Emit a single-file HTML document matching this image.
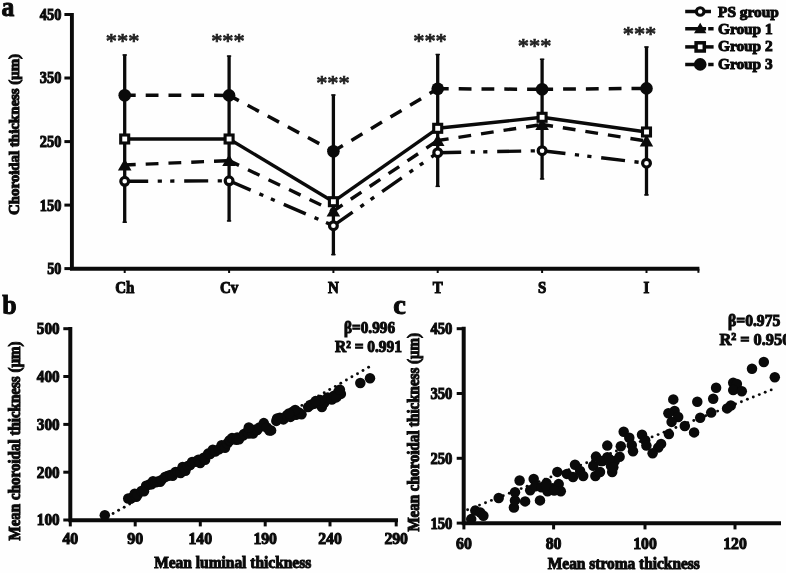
<!DOCTYPE html>
<html lang="en"><head><meta charset="utf-8"><title>Choroidal thickness figure</title>
<style>
html,body{margin:0;padding:0;background:#fefefe;}
body{width:786px;height:573px;overflow:hidden;}
svg{display:block;font-family:"Liberation Serif","DejaVu Serif",serif;font-weight:bold;fill:#0a0a0a;filter:blur(0.6px);}
text{stroke:#0a0a0a;stroke-width:1px;}
text.ast{font-weight:normal;fill:#222;stroke:#222;stroke-width:0.75px;}
</style></head><body>
<svg width="786" height="573" viewBox="0 0 786 573">
<rect width="786" height="573" fill="#fefefe"/>
<path d="M71.9 13.100000000000001V268.8H699.4" fill="none" stroke="#0a0a0a" stroke-width="3.9" stroke-linejoin="miter"/>
<line x1="64.4" y1="14.5" x2="71.9" y2="14.5" stroke="#0a0a0a" stroke-width="3"/>
<text x="61.4" y="19.9" font-size="16" text-anchor="end" textLength="21.6" lengthAdjust="spacingAndGlyphs">450</text>
<line x1="64.4" y1="78.0" x2="71.9" y2="78.0" stroke="#0a0a0a" stroke-width="3"/>
<text x="61.4" y="83.4" font-size="16" text-anchor="end" textLength="21.6" lengthAdjust="spacingAndGlyphs">350</text>
<line x1="64.4" y1="141.6" x2="71.9" y2="141.6" stroke="#0a0a0a" stroke-width="3"/>
<text x="61.4" y="147.0" font-size="16" text-anchor="end" textLength="21.6" lengthAdjust="spacingAndGlyphs">250</text>
<line x1="64.4" y1="205.1" x2="71.9" y2="205.1" stroke="#0a0a0a" stroke-width="3"/>
<text x="61.4" y="210.5" font-size="16" text-anchor="end" textLength="21.6" lengthAdjust="spacingAndGlyphs">150</text>
<line x1="64.4" y1="268.6" x2="71.9" y2="268.6" stroke="#0a0a0a" stroke-width="3"/>
<text x="61.4" y="274.0" font-size="16" text-anchor="end" textLength="14.2" lengthAdjust="spacingAndGlyphs">50</text>
<line x1="124.7" y1="268.8" x2="124.7" y2="273.0" stroke="#0a0a0a" stroke-width="2"/>
<text x="124.7" y="293" font-size="16" text-anchor="middle" textLength="19.1" lengthAdjust="spacingAndGlyphs">Ch</text>
<line x1="229.1" y1="268.8" x2="229.1" y2="273.0" stroke="#0a0a0a" stroke-width="2"/>
<text x="229.1" y="293" font-size="16" text-anchor="middle" textLength="18.3" lengthAdjust="spacingAndGlyphs">Cv</text>
<line x1="333.4" y1="268.8" x2="333.4" y2="273.0" stroke="#0a0a0a" stroke-width="2"/>
<text x="333.4" y="293" font-size="16" text-anchor="middle" textLength="10.8" lengthAdjust="spacingAndGlyphs">N</text>
<line x1="437.7" y1="268.8" x2="437.7" y2="273.0" stroke="#0a0a0a" stroke-width="2"/>
<text x="437.7" y="293" font-size="16" text-anchor="middle" textLength="10" lengthAdjust="spacingAndGlyphs">T</text>
<line x1="542.1" y1="268.8" x2="542.1" y2="273.0" stroke="#0a0a0a" stroke-width="2"/>
<text x="542.1" y="293" font-size="16" text-anchor="middle" textLength="8.3" lengthAdjust="spacingAndGlyphs">S</text>
<line x1="646.5" y1="268.8" x2="646.5" y2="273.0" stroke="#0a0a0a" stroke-width="2"/>
<text x="646.5" y="293" font-size="16" text-anchor="middle" textLength="5.8" lengthAdjust="spacingAndGlyphs">I</text>
<line x1="698.4" y1="268.8" x2="698.4" y2="272.8" stroke="#0a0a0a" stroke-width="2"/>
<text x="19.3" y="134.5" font-size="14.5" text-anchor="middle" textLength="161" lengthAdjust="spacingAndGlyphs" transform="rotate(-90 19.3 134.5)">Choroidal thickness (μm)</text>
<text x="1.5" y="15.6" font-size="27" textLength="12.8" lengthAdjust="spacingAndGlyphs">a</text>
<line x1="124.7" y1="54.4" x2="124.7" y2="222.8" stroke="#0a0a0a" stroke-width="3.3"/>
<line x1="122.5" y1="55.0" x2="126.9" y2="55.0" stroke="#0a0a0a" stroke-width="1.4"/>
<line x1="122.5" y1="222.20000000000002" x2="126.9" y2="222.20000000000002" stroke="#0a0a0a" stroke-width="1.4"/>
<line x1="229.1" y1="55.5" x2="229.1" y2="221.5" stroke="#0a0a0a" stroke-width="3.3"/>
<line x1="226.9" y1="56.1" x2="231.2" y2="56.1" stroke="#0a0a0a" stroke-width="1.4"/>
<line x1="226.9" y1="220.9" x2="231.2" y2="220.9" stroke="#0a0a0a" stroke-width="1.4"/>
<line x1="333.4" y1="94.4" x2="333.4" y2="255.2" stroke="#0a0a0a" stroke-width="3.3"/>
<line x1="331.2" y1="95.0" x2="335.6" y2="95.0" stroke="#0a0a0a" stroke-width="1.4"/>
<line x1="331.2" y1="254.6" x2="335.6" y2="254.6" stroke="#0a0a0a" stroke-width="1.4"/>
<line x1="437.7" y1="53.9" x2="437.7" y2="187" stroke="#0a0a0a" stroke-width="3.3"/>
<line x1="435.5" y1="54.5" x2="439.9" y2="54.5" stroke="#0a0a0a" stroke-width="1.4"/>
<line x1="435.5" y1="186.4" x2="439.9" y2="186.4" stroke="#0a0a0a" stroke-width="1.4"/>
<line x1="542.1" y1="58.7" x2="542.1" y2="179.5" stroke="#0a0a0a" stroke-width="3.3"/>
<line x1="539.9" y1="59.300000000000004" x2="544.3" y2="59.300000000000004" stroke="#0a0a0a" stroke-width="1.4"/>
<line x1="539.9" y1="178.9" x2="544.3" y2="178.9" stroke="#0a0a0a" stroke-width="1.4"/>
<line x1="646.5" y1="46.4" x2="646.5" y2="195.5" stroke="#0a0a0a" stroke-width="3.3"/>
<line x1="644.2" y1="47.0" x2="648.7" y2="47.0" stroke="#0a0a0a" stroke-width="1.4"/>
<line x1="644.2" y1="194.9" x2="648.7" y2="194.9" stroke="#0a0a0a" stroke-width="1.4"/>
<line x1="124.7" y1="95.2" x2="229.1" y2="95.4" stroke="#0a0a0a" stroke-width="3.5" stroke-dasharray="12.8 10" stroke-dashoffset="1.8"/>
<line x1="229.1" y1="95.4" x2="333.4" y2="151.2" stroke="#0a0a0a" stroke-width="3.5" stroke-dasharray="12.8 10" stroke-dashoffset="1.8"/>
<line x1="333.4" y1="151.2" x2="437.7" y2="88.7" stroke="#0a0a0a" stroke-width="3.5" stroke-dasharray="12.8 10" stroke-dashoffset="1.8"/>
<line x1="437.7" y1="88.7" x2="542.1" y2="89.3" stroke="#0a0a0a" stroke-width="3.5" stroke-dasharray="12.8 10" stroke-dashoffset="1.8"/>
<line x1="542.1" y1="89.3" x2="646.5" y2="88.4" stroke="#0a0a0a" stroke-width="3.5" stroke-dasharray="12.8 10" stroke-dashoffset="1.8"/>
<line x1="124.7" y1="165" x2="229.1" y2="160.6" stroke="#0a0a0a" stroke-width="3.4" stroke-dasharray="12.8 10" stroke-dashoffset="1.8"/>
<line x1="229.1" y1="160.6" x2="333.4" y2="211" stroke="#0a0a0a" stroke-width="3.4" stroke-dasharray="12.8 10" stroke-dashoffset="1.8"/>
<line x1="333.4" y1="211" x2="437.7" y2="140.5" stroke="#0a0a0a" stroke-width="3.4" stroke-dasharray="12.8 10" stroke-dashoffset="1.8"/>
<line x1="437.7" y1="140.5" x2="542.1" y2="124.5" stroke="#0a0a0a" stroke-width="3.4" stroke-dasharray="12.8 10" stroke-dashoffset="1.8"/>
<line x1="542.1" y1="124.5" x2="646.5" y2="141" stroke="#0a0a0a" stroke-width="3.4" stroke-dasharray="12.8 10" stroke-dashoffset="1.8"/>
<line x1="124.7" y1="181.3" x2="229.1" y2="180.8" stroke="#0a0a0a" stroke-width="3.4" stroke-dasharray="24 9.5 4.2 8.3 4.2 9.8" stroke-dashoffset="0.5"/>
<line x1="229.1" y1="180.8" x2="333.4" y2="225.7" stroke="#0a0a0a" stroke-width="3.4" stroke-dasharray="24 9.5 4.2 8.3 4.2 9.8" stroke-dashoffset="0.5"/>
<line x1="333.4" y1="225.7" x2="437.7" y2="152.7" stroke="#0a0a0a" stroke-width="3.4" stroke-dasharray="24 9.5 4.2 8.3 4.2 9.8" stroke-dashoffset="0.5"/>
<line x1="437.7" y1="152.7" x2="542.1" y2="150.7" stroke="#0a0a0a" stroke-width="3.4" stroke-dasharray="24 9.5 4.2 8.3 4.2 9.8" stroke-dashoffset="0.5"/>
<line x1="542.1" y1="150.7" x2="646.5" y2="163.2" stroke="#0a0a0a" stroke-width="3.4" stroke-dasharray="24 9.5 4.2 8.3 4.2 9.8" stroke-dashoffset="0.5"/>
<line x1="124.7" y1="139" x2="229.1" y2="139" stroke="#0a0a0a" stroke-width="3.4"/>
<line x1="229.1" y1="139" x2="333.4" y2="201.7" stroke="#0a0a0a" stroke-width="3.4"/>
<line x1="333.4" y1="201.7" x2="437.7" y2="128.3" stroke="#0a0a0a" stroke-width="3.4"/>
<line x1="437.7" y1="128.3" x2="542.1" y2="117.3" stroke="#0a0a0a" stroke-width="3.4"/>
<line x1="542.1" y1="117.3" x2="646.5" y2="132" stroke="#0a0a0a" stroke-width="3.4"/>
<circle cx="124.7" cy="95.2" r="6.3" fill="#0a0a0a"/>
<circle cx="229.1" cy="95.4" r="6.3" fill="#0a0a0a"/>
<circle cx="333.4" cy="151.2" r="6.3" fill="#0a0a0a"/>
<circle cx="437.7" cy="88.7" r="6.3" fill="#0a0a0a"/>
<circle cx="542.1" cy="89.3" r="6.3" fill="#0a0a0a"/>
<circle cx="646.5" cy="88.4" r="6.3" fill="#0a0a0a"/>
<path d="M124.7 158.8L131.5 170.4H117.9Z" fill="#0a0a0a"/>
<path d="M229.1 154.4L235.9 166.0H222.2Z" fill="#0a0a0a"/>
<path d="M333.4 204.8L340.2 216.4H326.6Z" fill="#0a0a0a"/>
<path d="M437.7 134.3L444.5 145.9H430.9Z" fill="#0a0a0a"/>
<path d="M542.1 118.3L548.9 129.9H535.3Z" fill="#0a0a0a"/>
<path d="M646.5 134.8L653.2 146.4H639.7Z" fill="#0a0a0a"/>
<rect x="120.7" y="135.0" width="8" height="8" fill="#fff" stroke="#0a0a0a" stroke-width="3.1"/>
<rect x="225.1" y="135.0" width="8" height="8" fill="#fff" stroke="#0a0a0a" stroke-width="3.1"/>
<rect x="329.4" y="197.7" width="8" height="8" fill="#fff" stroke="#0a0a0a" stroke-width="3.1"/>
<rect x="433.7" y="124.3" width="8" height="8" fill="#fff" stroke="#0a0a0a" stroke-width="3.1"/>
<rect x="538.1" y="113.3" width="8" height="8" fill="#fff" stroke="#0a0a0a" stroke-width="3.1"/>
<rect x="642.5" y="128.0" width="8" height="8" fill="#fff" stroke="#0a0a0a" stroke-width="3.1"/>
<circle cx="124.7" cy="181.3" r="3.9" fill="#fff" stroke="#0a0a0a" stroke-width="3.2"/>
<circle cx="229.1" cy="180.8" r="3.9" fill="#fff" stroke="#0a0a0a" stroke-width="3.2"/>
<circle cx="333.4" cy="225.7" r="3.9" fill="#fff" stroke="#0a0a0a" stroke-width="3.2"/>
<circle cx="437.7" cy="152.7" r="3.9" fill="#fff" stroke="#0a0a0a" stroke-width="3.2"/>
<circle cx="542.1" cy="150.7" r="3.9" fill="#fff" stroke="#0a0a0a" stroke-width="3.2"/>
<circle cx="646.5" cy="163.2" r="3.9" fill="#fff" stroke="#0a0a0a" stroke-width="3.2"/>
<text x="122.6" y="48.2" font-size="20" text-anchor="middle" textLength="33.5" lengthAdjust="spacingAndGlyphs" class="ast">***</text>
<text x="227.9" y="48.2" font-size="20" text-anchor="middle" textLength="33.5" lengthAdjust="spacingAndGlyphs" class="ast">***</text>
<text x="332.9" y="90.3" font-size="20" text-anchor="middle" textLength="33.5" lengthAdjust="spacingAndGlyphs" class="ast">***</text>
<text x="430" y="48.2" font-size="20" text-anchor="middle" textLength="33.5" lengthAdjust="spacingAndGlyphs" class="ast">***</text>
<text x="534.6" y="53.3" font-size="20" text-anchor="middle" textLength="33.5" lengthAdjust="spacingAndGlyphs" class="ast">***</text>
<text x="639.5" y="40.9" font-size="20" text-anchor="middle" textLength="33.5" lengthAdjust="spacingAndGlyphs" class="ast">***</text>
<line x1="685.2" y1="11.5" x2="711" y2="11.5" stroke="#0a0a0a" stroke-width="3.5"/>
<circle cx="700.2" cy="11.5" r="3.8" fill="#fff" stroke="#0a0a0a" stroke-width="3.1"/>
<line x1="685.2" y1="28.8" x2="713.6" y2="28.8" stroke="#0a0a0a" stroke-width="3.5" stroke-dasharray="20.9 2.1 5.6 9"/>
<path d="M700.2 22.8L706.4000000000001 33.2H694.0Z" fill="#0a0a0a"/>
<line x1="685.2" y1="46.9" x2="713.6" y2="46.9" stroke="#0a0a0a" stroke-width="3.5"/>
<rect x="696.1" y="42.8" width="8.2" height="8.2" fill="#fff" stroke="#0a0a0a" stroke-width="3.5"/>
<line x1="685.2" y1="64.4" x2="713.6" y2="64.4" stroke="#0a0a0a" stroke-width="3.5" stroke-dasharray="20.9 2.1 5.6 9"/>
<circle cx="700.2" cy="64.4" r="6.3" fill="#0a0a0a"/>
<text x="718" y="16.5" font-size="15" textLength="60.9" lengthAdjust="spacingAndGlyphs">PS group</text>
<text x="718" y="33.9" font-size="15" textLength="54.6" lengthAdjust="spacingAndGlyphs">Group 1</text>
<text x="718" y="51.2" font-size="15" textLength="54.6" lengthAdjust="spacingAndGlyphs">Group 2</text>
<text x="718" y="68.6" font-size="15" textLength="54.6" lengthAdjust="spacingAndGlyphs">Group 3</text>
<path d="M70.3 326.9V520.2H398" fill="none" stroke="#0a0a0a" stroke-width="4"/>
<line x1="63.3" y1="328.7" x2="70.3" y2="328.7" stroke="#0a0a0a" stroke-width="3"/>
<text x="59.6" y="334.1" font-size="16" text-anchor="end" textLength="22.8" lengthAdjust="spacingAndGlyphs">500</text>
<line x1="63.3" y1="376.5" x2="70.3" y2="376.5" stroke="#0a0a0a" stroke-width="3"/>
<text x="59.6" y="381.9" font-size="16" text-anchor="end" textLength="22.8" lengthAdjust="spacingAndGlyphs">400</text>
<line x1="63.3" y1="424.4" x2="70.3" y2="424.4" stroke="#0a0a0a" stroke-width="3"/>
<text x="59.6" y="429.8" font-size="16" text-anchor="end" textLength="22.8" lengthAdjust="spacingAndGlyphs">300</text>
<line x1="63.3" y1="472.2" x2="70.3" y2="472.2" stroke="#0a0a0a" stroke-width="3"/>
<text x="59.6" y="477.6" font-size="16" text-anchor="end" textLength="22.8" lengthAdjust="spacingAndGlyphs">200</text>
<line x1="63.3" y1="520.0" x2="70.3" y2="520.0" stroke="#0a0a0a" stroke-width="3"/>
<text x="59.6" y="525.4" font-size="16" text-anchor="end" textLength="22.8" lengthAdjust="spacingAndGlyphs">100</text>
<line x1="70.3" y1="520.2" x2="70.3" y2="526.4000000000001" stroke="#0a0a0a" stroke-width="3"/>
<text x="70.3" y="544.3" font-size="16" text-anchor="middle" textLength="15.8" lengthAdjust="spacingAndGlyphs">40</text>
<line x1="135.2" y1="520.2" x2="135.2" y2="526.4000000000001" stroke="#0a0a0a" stroke-width="3"/>
<text x="135.2" y="544.3" font-size="16" text-anchor="middle" textLength="15.8" lengthAdjust="spacingAndGlyphs">90</text>
<line x1="200.3" y1="520.2" x2="200.3" y2="526.4000000000001" stroke="#0a0a0a" stroke-width="3"/>
<text x="200.3" y="544.3" font-size="16" text-anchor="middle" textLength="23.6" lengthAdjust="spacingAndGlyphs">140</text>
<line x1="265.2" y1="520.2" x2="265.2" y2="526.4000000000001" stroke="#0a0a0a" stroke-width="3"/>
<text x="265.2" y="544.3" font-size="16" text-anchor="middle" textLength="23.6" lengthAdjust="spacingAndGlyphs">190</text>
<line x1="330.0" y1="520.2" x2="330.0" y2="526.4000000000001" stroke="#0a0a0a" stroke-width="3"/>
<text x="330.0" y="544.3" font-size="16" text-anchor="middle" textLength="23.6" lengthAdjust="spacingAndGlyphs">240</text>
<line x1="396.2" y1="520.2" x2="396.2" y2="526.4000000000001" stroke="#0a0a0a" stroke-width="3"/>
<text x="396.2" y="544.3" font-size="16" text-anchor="middle" textLength="23.6" lengthAdjust="spacingAndGlyphs">290</text>
<text x="154.2" y="568.3" font-size="16" textLength="157" lengthAdjust="spacingAndGlyphs">Mean luminal thickness</text>
<text x="20.2" y="441" font-size="16" text-anchor="middle" textLength="199" lengthAdjust="spacingAndGlyphs" transform="rotate(-90 20.2 441)">Mean choroidal thickness (μm)</text>
<text x="2.2" y="314.4" font-size="28" textLength="14.4" lengthAdjust="spacingAndGlyphs">b</text>
<text x="344" y="333" font-size="16" textLength="51" lengthAdjust="spacingAndGlyphs">β=0.996</text>
<text x="335" y="352" font-size="16" textLength="67" lengthAdjust="spacingAndGlyphs">R² = 0.991</text>
<circle cx="129.7" cy="504.0" r="1.45" fill="#0a0a0a"/>
<circle cx="124.2" cy="507.2" r="1.45" fill="#0a0a0a"/>
<circle cx="118.6" cy="510.3" r="1.45" fill="#0a0a0a"/>
<circle cx="113.1" cy="513.5" r="1.45" fill="#0a0a0a"/>
<circle cx="107.5" cy="516.7" r="1.45" fill="#0a0a0a"/>
<circle cx="368.6" cy="367.3" r="1.45" fill="#0a0a0a"/>
<circle cx="363.0" cy="370.5" r="1.45" fill="#0a0a0a"/>
<circle cx="357.5" cy="373.7" r="1.45" fill="#0a0a0a"/>
<circle cx="351.9" cy="376.8" r="1.45" fill="#0a0a0a"/>
<circle cx="346.4" cy="380.0" r="1.45" fill="#0a0a0a"/>
<circle cx="340.8" cy="383.2" r="1.45" fill="#0a0a0a"/>
<circle cx="335.3" cy="386.4" r="1.45" fill="#0a0a0a"/>
<circle cx="329.7" cy="389.5" r="1.45" fill="#0a0a0a"/>
<circle cx="324.2" cy="392.7" r="1.45" fill="#0a0a0a"/>
<circle cx="318.6" cy="395.9" r="1.45" fill="#0a0a0a"/>
<circle cx="313.1" cy="399.1" r="1.45" fill="#0a0a0a"/>
<circle cx="307.5" cy="402.3" r="1.45" fill="#0a0a0a"/>
<circle cx="301.9" cy="405.4" r="1.45" fill="#0a0a0a"/>
<circle cx="296.4" cy="408.6" r="1.45" fill="#0a0a0a"/>
<circle cx="290.8" cy="411.8" r="1.45" fill="#0a0a0a"/>
<circle cx="104.8" cy="515.3" r="5.25" fill="#0a0a0a"/>
<circle cx="360.3" cy="383.0" r="5.25" fill="#0a0a0a"/>
<circle cx="370.0" cy="378.2" r="5.25" fill="#0a0a0a"/>
<circle cx="269.5" cy="430.5" r="5.25" fill="#0a0a0a"/>
<circle cx="128.2" cy="498.5" r="5.25" fill="#0a0a0a"/>
<circle cx="130.5" cy="498.8" r="5.25" fill="#0a0a0a"/>
<circle cx="132.6" cy="497.2" r="5.25" fill="#0a0a0a"/>
<circle cx="134.7" cy="493.7" r="5.25" fill="#0a0a0a"/>
<circle cx="136.3" cy="496.8" r="5.25" fill="#0a0a0a"/>
<circle cx="137.6" cy="494.6" r="5.25" fill="#0a0a0a"/>
<circle cx="141.5" cy="491.0" r="5.25" fill="#0a0a0a"/>
<circle cx="144.0" cy="491.2" r="5.25" fill="#0a0a0a"/>
<circle cx="146.1" cy="485.7" r="5.25" fill="#0a0a0a"/>
<circle cx="149.2" cy="484.6" r="5.25" fill="#0a0a0a"/>
<circle cx="151.5" cy="484.2" r="5.25" fill="#0a0a0a"/>
<circle cx="153.0" cy="481.2" r="5.25" fill="#0a0a0a"/>
<circle cx="155.8" cy="482.3" r="5.25" fill="#0a0a0a"/>
<circle cx="157.7" cy="481.4" r="5.25" fill="#0a0a0a"/>
<circle cx="160.1" cy="481.8" r="5.25" fill="#0a0a0a"/>
<circle cx="161.6" cy="479.9" r="5.25" fill="#0a0a0a"/>
<circle cx="165.0" cy="477.0" r="5.25" fill="#0a0a0a"/>
<circle cx="167.4" cy="476.1" r="5.25" fill="#0a0a0a"/>
<circle cx="170.3" cy="475.0" r="5.25" fill="#0a0a0a"/>
<circle cx="172.6" cy="475.8" r="5.25" fill="#0a0a0a"/>
<circle cx="175.5" cy="472.0" r="5.25" fill="#0a0a0a"/>
<circle cx="177.9" cy="472.1" r="5.25" fill="#0a0a0a"/>
<circle cx="180.6" cy="473.0" r="5.25" fill="#0a0a0a"/>
<circle cx="182.6" cy="466.9" r="5.25" fill="#0a0a0a"/>
<circle cx="185.4" cy="470.8" r="5.25" fill="#0a0a0a"/>
<circle cx="187.9" cy="466.0" r="5.25" fill="#0a0a0a"/>
<circle cx="190.2" cy="465.1" r="5.25" fill="#0a0a0a"/>
<circle cx="192.1" cy="462.0" r="5.25" fill="#0a0a0a"/>
<circle cx="195.0" cy="461.7" r="5.25" fill="#0a0a0a"/>
<circle cx="198.4" cy="459.7" r="5.25" fill="#0a0a0a"/>
<circle cx="200.2" cy="463.1" r="5.25" fill="#0a0a0a"/>
<circle cx="203.7" cy="457.7" r="5.25" fill="#0a0a0a"/>
<circle cx="205.1" cy="459.7" r="5.25" fill="#0a0a0a"/>
<circle cx="208.1" cy="453.6" r="5.25" fill="#0a0a0a"/>
<circle cx="210.1" cy="454.1" r="5.25" fill="#0a0a0a"/>
<circle cx="212.8" cy="449.8" r="5.25" fill="#0a0a0a"/>
<circle cx="215.2" cy="451.6" r="5.25" fill="#0a0a0a"/>
<circle cx="219.0" cy="449.3" r="5.25" fill="#0a0a0a"/>
<circle cx="221.6" cy="445.2" r="5.25" fill="#0a0a0a"/>
<circle cx="225.0" cy="447.8" r="5.25" fill="#0a0a0a"/>
<circle cx="227.3" cy="443.4" r="5.25" fill="#0a0a0a"/>
<circle cx="229.3" cy="440.6" r="5.25" fill="#0a0a0a"/>
<circle cx="230.2" cy="440.2" r="5.25" fill="#0a0a0a"/>
<circle cx="232.0" cy="438.1" r="5.25" fill="#0a0a0a"/>
<circle cx="233.8" cy="439.1" r="5.25" fill="#0a0a0a"/>
<circle cx="236.5" cy="439.7" r="5.25" fill="#0a0a0a"/>
<circle cx="237.2" cy="437.4" r="5.25" fill="#0a0a0a"/>
<circle cx="239.1" cy="439.2" r="5.25" fill="#0a0a0a"/>
<circle cx="243.0" cy="435.6" r="5.25" fill="#0a0a0a"/>
<circle cx="244.0" cy="434.0" r="5.25" fill="#0a0a0a"/>
<circle cx="247.1" cy="432.1" r="5.25" fill="#0a0a0a"/>
<circle cx="248.8" cy="433.5" r="5.25" fill="#0a0a0a"/>
<circle cx="249.8" cy="429.9" r="5.25" fill="#0a0a0a"/>
<circle cx="253.0" cy="433.6" r="5.25" fill="#0a0a0a"/>
<circle cx="254.6" cy="429.8" r="5.25" fill="#0a0a0a"/>
<circle cx="257.2" cy="430.1" r="5.25" fill="#0a0a0a"/>
<circle cx="259.4" cy="427.4" r="5.25" fill="#0a0a0a"/>
<circle cx="248.8" cy="427.5" r="5.25" fill="#0a0a0a"/>
<circle cx="263.8" cy="423.1" r="5.25" fill="#0a0a0a"/>
<circle cx="271.1" cy="430.4" r="5.25" fill="#0a0a0a"/>
<circle cx="266.9" cy="427.5" r="5.25" fill="#0a0a0a"/>
<circle cx="276.3" cy="420.9" r="5.25" fill="#0a0a0a"/>
<circle cx="279.9" cy="417.8" r="5.25" fill="#0a0a0a"/>
<circle cx="283.4" cy="419.4" r="5.25" fill="#0a0a0a"/>
<circle cx="286.9" cy="415.3" r="5.25" fill="#0a0a0a"/>
<circle cx="290.5" cy="416.9" r="5.25" fill="#0a0a0a"/>
<circle cx="292.8" cy="411.8" r="5.25" fill="#0a0a0a"/>
<circle cx="296.0" cy="414.7" r="5.25" fill="#0a0a0a"/>
<circle cx="299.1" cy="412.6" r="5.25" fill="#0a0a0a"/>
<circle cx="301.5" cy="414.2" r="5.25" fill="#0a0a0a"/>
<circle cx="295.2" cy="409.9" r="5.25" fill="#0a0a0a"/>
<circle cx="288.9" cy="413.4" r="5.25" fill="#0a0a0a"/>
<circle cx="277.1" cy="418.4" r="5.25" fill="#0a0a0a"/>
<circle cx="308.1" cy="407.1" r="5.25" fill="#0a0a0a"/>
<circle cx="310.9" cy="404.8" r="5.25" fill="#0a0a0a"/>
<circle cx="314.0" cy="403.7" r="5.25" fill="#0a0a0a"/>
<circle cx="318.0" cy="402.1" r="5.25" fill="#0a0a0a"/>
<circle cx="321.9" cy="407.1" r="5.25" fill="#0a0a0a"/>
<circle cx="324.2" cy="402.7" r="5.25" fill="#0a0a0a"/>
<circle cx="320.3" cy="400.1" r="5.25" fill="#0a0a0a"/>
<circle cx="315.6" cy="401.1" r="5.25" fill="#0a0a0a"/>
<circle cx="327.7" cy="397.4" r="5.25" fill="#0a0a0a"/>
<circle cx="331.8" cy="399.6" r="5.25" fill="#0a0a0a"/>
<circle cx="334.0" cy="395.8" r="5.25" fill="#0a0a0a"/>
<circle cx="338.4" cy="391.7" r="5.25" fill="#0a0a0a"/>
<circle cx="340.9" cy="393.9" r="5.25" fill="#0a0a0a"/>
<circle cx="336.2" cy="397.4" r="5.25" fill="#0a0a0a"/>
<circle cx="339.9" cy="389.8" r="5.25" fill="#0a0a0a"/>
<path d="M463.7 326.8V523.2H781" fill="none" stroke="#0a0a0a" stroke-width="4"/>
<line x1="456.7" y1="328.7" x2="463.7" y2="328.7" stroke="#0a0a0a" stroke-width="3"/>
<text x="452.4" y="334.1" font-size="16" text-anchor="end" textLength="22" lengthAdjust="spacingAndGlyphs">450</text>
<line x1="456.7" y1="393.5" x2="463.7" y2="393.5" stroke="#0a0a0a" stroke-width="3"/>
<text x="452.4" y="398.9" font-size="16" text-anchor="end" textLength="22" lengthAdjust="spacingAndGlyphs">350</text>
<line x1="456.7" y1="458.3" x2="463.7" y2="458.3" stroke="#0a0a0a" stroke-width="3"/>
<text x="452.4" y="463.7" font-size="16" text-anchor="end" textLength="22" lengthAdjust="spacingAndGlyphs">250</text>
<line x1="456.7" y1="523.1" x2="463.7" y2="523.1" stroke="#0a0a0a" stroke-width="3"/>
<text x="452.4" y="528.5" font-size="16" text-anchor="end" textLength="22" lengthAdjust="spacingAndGlyphs">150</text>
<line x1="463.9" y1="523.2" x2="463.9" y2="529.4000000000001" stroke="#0a0a0a" stroke-width="3"/>
<text x="463.9" y="548.6" font-size="16" text-anchor="middle" textLength="15.8" lengthAdjust="spacingAndGlyphs">60</text>
<line x1="553.6" y1="523.2" x2="553.6" y2="529.4000000000001" stroke="#0a0a0a" stroke-width="3"/>
<text x="553.6" y="548.6" font-size="16" text-anchor="middle" textLength="15.8" lengthAdjust="spacingAndGlyphs">80</text>
<line x1="645.0" y1="523.2" x2="645.0" y2="529.4000000000001" stroke="#0a0a0a" stroke-width="3"/>
<text x="645" y="548.6" font-size="16" text-anchor="middle" textLength="23.6" lengthAdjust="spacingAndGlyphs">100</text>
<line x1="735.0" y1="523.2" x2="735.0" y2="529.4000000000001" stroke="#0a0a0a" stroke-width="3"/>
<text x="735" y="548.6" font-size="16" text-anchor="middle" textLength="23.6" lengthAdjust="spacingAndGlyphs">120</text>
<text x="547.8" y="569.4" font-size="16" textLength="152" lengthAdjust="spacingAndGlyphs">Mean stroma thickness</text>
<text x="419.2" y="432.3" font-size="16" text-anchor="middle" textLength="198.5" lengthAdjust="spacingAndGlyphs" transform="rotate(-90 419.2 432.3)">Mean choroidal thickness (μm)</text>
<text x="393.2" y="314.3" font-size="28" textLength="12.6" lengthAdjust="spacingAndGlyphs">c</text>
<text x="728" y="326" font-size="16" textLength="52.3" lengthAdjust="spacingAndGlyphs">β=0.975</text>
<text x="719.4" y="345.2" font-size="17" textLength="71" lengthAdjust="spacingAndGlyphs">R² = 0.950</text>
<circle cx="467.6" cy="509.8" r="1.45" fill="#0a0a0a"/>
<circle cx="473.6" cy="507.4" r="1.45" fill="#0a0a0a"/>
<circle cx="479.5" cy="505.1" r="1.45" fill="#0a0a0a"/>
<circle cx="485.5" cy="502.7" r="1.45" fill="#0a0a0a"/>
<circle cx="491.4" cy="500.4" r="1.45" fill="#0a0a0a"/>
<circle cx="497.4" cy="498.0" r="1.45" fill="#0a0a0a"/>
<circle cx="503.3" cy="495.7" r="1.45" fill="#0a0a0a"/>
<circle cx="509.3" cy="493.3" r="1.45" fill="#0a0a0a"/>
<circle cx="515.2" cy="491.0" r="1.45" fill="#0a0a0a"/>
<circle cx="521.2" cy="488.6" r="1.45" fill="#0a0a0a"/>
<circle cx="527.1" cy="486.3" r="1.45" fill="#0a0a0a"/>
<circle cx="533.1" cy="483.9" r="1.45" fill="#0a0a0a"/>
<circle cx="539.0" cy="481.6" r="1.45" fill="#0a0a0a"/>
<circle cx="545.0" cy="479.2" r="1.45" fill="#0a0a0a"/>
<circle cx="550.9" cy="476.9" r="1.45" fill="#0a0a0a"/>
<circle cx="556.9" cy="474.5" r="1.45" fill="#0a0a0a"/>
<circle cx="562.8" cy="472.2" r="1.45" fill="#0a0a0a"/>
<circle cx="568.8" cy="469.8" r="1.45" fill="#0a0a0a"/>
<circle cx="574.7" cy="467.5" r="1.45" fill="#0a0a0a"/>
<circle cx="580.7" cy="465.1" r="1.45" fill="#0a0a0a"/>
<circle cx="586.7" cy="462.8" r="1.45" fill="#0a0a0a"/>
<circle cx="592.6" cy="460.4" r="1.45" fill="#0a0a0a"/>
<circle cx="598.6" cy="458.1" r="1.45" fill="#0a0a0a"/>
<circle cx="604.5" cy="455.7" r="1.45" fill="#0a0a0a"/>
<circle cx="610.5" cy="453.4" r="1.45" fill="#0a0a0a"/>
<circle cx="616.4" cy="451.0" r="1.45" fill="#0a0a0a"/>
<circle cx="622.4" cy="448.7" r="1.45" fill="#0a0a0a"/>
<circle cx="628.3" cy="446.3" r="1.45" fill="#0a0a0a"/>
<circle cx="634.3" cy="444.0" r="1.45" fill="#0a0a0a"/>
<circle cx="640.2" cy="441.6" r="1.45" fill="#0a0a0a"/>
<circle cx="646.2" cy="439.3" r="1.45" fill="#0a0a0a"/>
<circle cx="652.1" cy="436.9" r="1.45" fill="#0a0a0a"/>
<circle cx="658.1" cy="434.6" r="1.45" fill="#0a0a0a"/>
<circle cx="664.0" cy="432.2" r="1.45" fill="#0a0a0a"/>
<circle cx="670.0" cy="429.9" r="1.45" fill="#0a0a0a"/>
<circle cx="675.9" cy="427.5" r="1.45" fill="#0a0a0a"/>
<circle cx="681.9" cy="425.2" r="1.45" fill="#0a0a0a"/>
<circle cx="687.8" cy="422.8" r="1.45" fill="#0a0a0a"/>
<circle cx="693.8" cy="420.5" r="1.45" fill="#0a0a0a"/>
<circle cx="699.8" cy="418.1" r="1.45" fill="#0a0a0a"/>
<circle cx="705.7" cy="415.8" r="1.45" fill="#0a0a0a"/>
<circle cx="711.7" cy="413.4" r="1.45" fill="#0a0a0a"/>
<circle cx="717.6" cy="411.1" r="1.45" fill="#0a0a0a"/>
<circle cx="723.6" cy="408.7" r="1.45" fill="#0a0a0a"/>
<circle cx="729.5" cy="406.4" r="1.45" fill="#0a0a0a"/>
<circle cx="735.5" cy="404.0" r="1.45" fill="#0a0a0a"/>
<circle cx="741.4" cy="401.7" r="1.45" fill="#0a0a0a"/>
<circle cx="747.4" cy="399.3" r="1.45" fill="#0a0a0a"/>
<circle cx="753.3" cy="397.0" r="1.45" fill="#0a0a0a"/>
<circle cx="759.3" cy="394.6" r="1.45" fill="#0a0a0a"/>
<circle cx="765.2" cy="392.3" r="1.45" fill="#0a0a0a"/>
<circle cx="771.2" cy="389.9" r="1.45" fill="#0a0a0a"/>
<circle cx="471.2" cy="519.1" r="5.25" fill="#0a0a0a"/>
<circle cx="475.3" cy="510.6" r="5.25" fill="#0a0a0a"/>
<circle cx="480.4" cy="512.6" r="5.25" fill="#0a0a0a"/>
<circle cx="483.4" cy="515.7" r="5.25" fill="#0a0a0a"/>
<circle cx="498.7" cy="498.0" r="5.25" fill="#0a0a0a"/>
<circle cx="513.9" cy="507.5" r="5.25" fill="#0a0a0a"/>
<circle cx="515.0" cy="500.4" r="5.25" fill="#0a0a0a"/>
<circle cx="515.0" cy="492.3" r="5.25" fill="#0a0a0a"/>
<circle cx="519.6" cy="480.5" r="5.25" fill="#0a0a0a"/>
<circle cx="525.1" cy="501.4" r="5.25" fill="#0a0a0a"/>
<circle cx="530.2" cy="490.2" r="5.25" fill="#0a0a0a"/>
<circle cx="533.7" cy="479.0" r="5.25" fill="#0a0a0a"/>
<circle cx="535.3" cy="486.2" r="5.25" fill="#0a0a0a"/>
<circle cx="540.0" cy="500.4" r="5.25" fill="#0a0a0a"/>
<circle cx="541.4" cy="487.2" r="5.25" fill="#0a0a0a"/>
<circle cx="546.5" cy="483.1" r="5.25" fill="#0a0a0a"/>
<circle cx="547.5" cy="491.2" r="5.25" fill="#0a0a0a"/>
<circle cx="552.6" cy="488.2" r="5.25" fill="#0a0a0a"/>
<circle cx="557.3" cy="471.9" r="5.25" fill="#0a0a0a"/>
<circle cx="558.7" cy="484.1" r="5.25" fill="#0a0a0a"/>
<circle cx="560.8" cy="491.2" r="5.25" fill="#0a0a0a"/>
<circle cx="566.9" cy="473.9" r="5.25" fill="#0a0a0a"/>
<circle cx="573.0" cy="477.0" r="5.25" fill="#0a0a0a"/>
<circle cx="575.0" cy="464.8" r="5.25" fill="#0a0a0a"/>
<circle cx="580.1" cy="470.9" r="5.25" fill="#0a0a0a"/>
<circle cx="583.2" cy="476.0" r="5.25" fill="#0a0a0a"/>
<circle cx="593.3" cy="465.8" r="5.25" fill="#0a0a0a"/>
<circle cx="596.0" cy="456.6" r="5.25" fill="#0a0a0a"/>
<circle cx="595.4" cy="476.0" r="5.25" fill="#0a0a0a"/>
<circle cx="763.8" cy="362.0" r="5.25" fill="#0a0a0a"/>
<circle cx="752.0" cy="368.8" r="5.25" fill="#0a0a0a"/>
<circle cx="774.8" cy="377.2" r="5.25" fill="#0a0a0a"/>
<circle cx="733.2" cy="382.8" r="5.25" fill="#0a0a0a"/>
<circle cx="736.9" cy="384.0" r="5.25" fill="#0a0a0a"/>
<circle cx="716.1" cy="387.7" r="5.25" fill="#0a0a0a"/>
<circle cx="733.2" cy="390.1" r="5.25" fill="#0a0a0a"/>
<circle cx="741.8" cy="391.3" r="5.25" fill="#0a0a0a"/>
<circle cx="673.3" cy="399.4" r="5.25" fill="#0a0a0a"/>
<circle cx="697.3" cy="401.8" r="5.25" fill="#0a0a0a"/>
<circle cx="713.2" cy="398.7" r="5.25" fill="#0a0a0a"/>
<circle cx="730.8" cy="405.5" r="5.25" fill="#0a0a0a"/>
<circle cx="727.1" cy="408.4" r="5.25" fill="#0a0a0a"/>
<circle cx="711.2" cy="412.6" r="5.25" fill="#0a0a0a"/>
<circle cx="674.6" cy="410.9" r="5.25" fill="#0a0a0a"/>
<circle cx="668.4" cy="413.3" r="5.25" fill="#0a0a0a"/>
<circle cx="678.2" cy="417.0" r="5.25" fill="#0a0a0a"/>
<circle cx="700.2" cy="417.7" r="5.25" fill="#0a0a0a"/>
<circle cx="671.6" cy="421.9" r="5.25" fill="#0a0a0a"/>
<circle cx="684.8" cy="426.0" r="5.25" fill="#0a0a0a"/>
<circle cx="694.1" cy="432.4" r="5.25" fill="#0a0a0a"/>
<circle cx="668.9" cy="434.1" r="5.25" fill="#0a0a0a"/>
<circle cx="623.7" cy="431.7" r="5.25" fill="#0a0a0a"/>
<circle cx="629.3" cy="437.8" r="5.25" fill="#0a0a0a"/>
<circle cx="642.0" cy="434.8" r="5.25" fill="#0a0a0a"/>
<circle cx="645.2" cy="440.2" r="5.25" fill="#0a0a0a"/>
<circle cx="661.1" cy="443.9" r="5.25" fill="#0a0a0a"/>
<circle cx="658.2" cy="447.6" r="5.25" fill="#0a0a0a"/>
<circle cx="646.4" cy="445.6" r="5.25" fill="#0a0a0a"/>
<circle cx="652.6" cy="453.2" r="5.25" fill="#0a0a0a"/>
<circle cx="631.8" cy="445.1" r="5.25" fill="#0a0a0a"/>
<circle cx="633.0" cy="451.2" r="5.25" fill="#0a0a0a"/>
<circle cx="620.8" cy="446.3" r="5.25" fill="#0a0a0a"/>
<circle cx="607.3" cy="445.6" r="5.25" fill="#0a0a0a"/>
<circle cx="619.6" cy="456.8" r="5.25" fill="#0a0a0a"/>
<circle cx="614.7" cy="461.0" r="5.25" fill="#0a0a0a"/>
<circle cx="607.3" cy="457.3" r="5.25" fill="#0a0a0a"/>
<circle cx="602.4" cy="461.0" r="5.25" fill="#0a0a0a"/>
<circle cx="611.0" cy="465.9" r="5.25" fill="#0a0a0a"/>
<circle cx="612.2" cy="472.0" r="5.25" fill="#0a0a0a"/>
<circle cx="600.0" cy="472.0" r="5.25" fill="#0a0a0a"/>
<circle cx="601.0" cy="461.0" r="5.25" fill="#0a0a0a"/>
<circle cx="609.2" cy="459.0" r="5.25" fill="#0a0a0a"/>
<circle cx="613.3" cy="467.2" r="5.25" fill="#0a0a0a"/>
<circle cx="546.1" cy="485.5" r="5.25" fill="#0a0a0a"/>
<circle cx="554.2" cy="490.6" r="5.25" fill="#0a0a0a"/>
</svg>
</body></html>
